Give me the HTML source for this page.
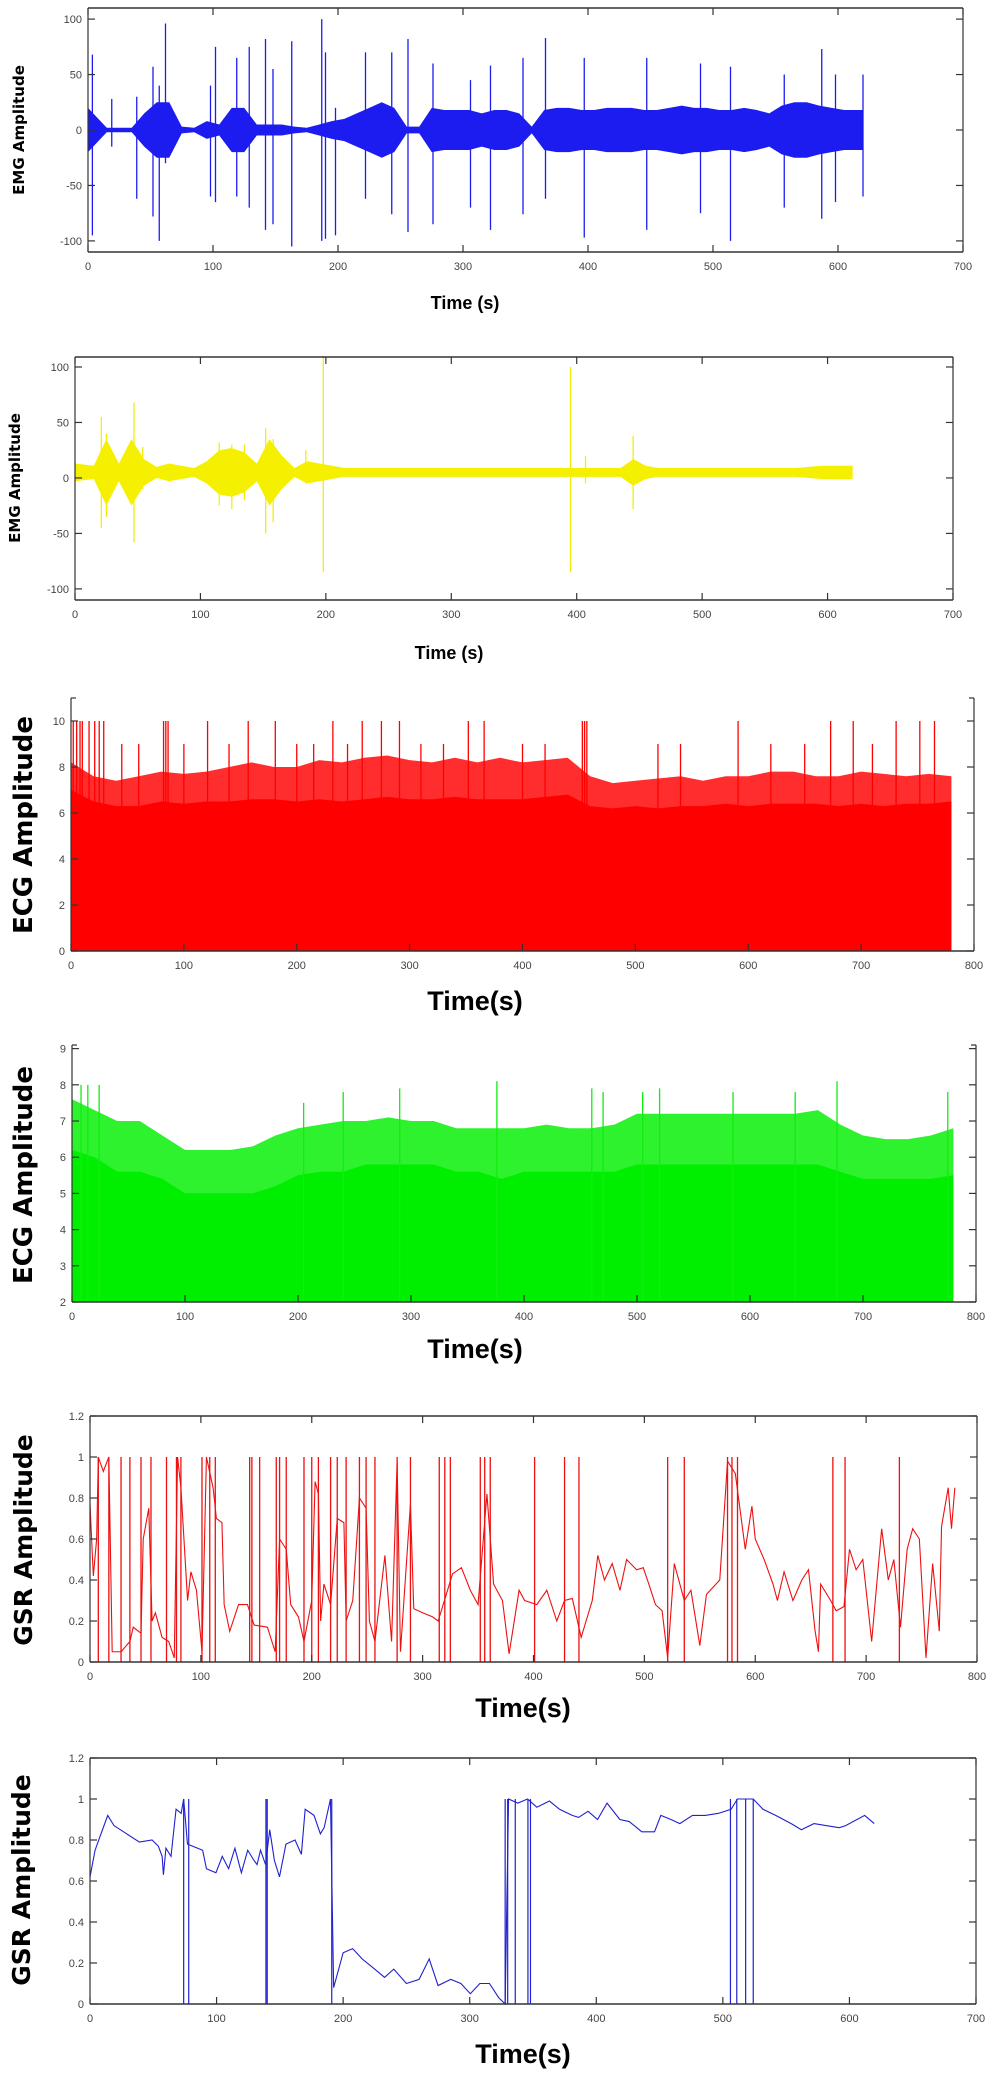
<!DOCTYPE html>
<html><head><meta charset="utf-8">
<style>
html,body{margin:0;padding:0;background:#fff;}
svg{display:block;}
.tk{font-family:"Liberation Sans Narrow","Liberation Sans",sans-serif;font-size:11px;fill:#444;}
</style></head>
<body>
<svg id="fig" width="993" height="2075" viewBox="0 0 993 2075" xmlns="http://www.w3.org/2000/svg"></svg>
<script>
// ---------- DATA ----------
const emgBlueBins = [20,2,2,2,15,25,25,3,2,8,5,20,20,5,5,5,3,2,5,8,10,15,20,25,20,3,3,20,18,18,18,15,18,18,15,3,18,20,20,18,18,20,20,20,18,18,20,22,20,20,18,18,20,18,15,22,25,25,22,20,18,18];
const emgBlueSpikeT  = [3.5,19,39,52,57,62,98,102,119,129,142,148,163,187,190,198,222,243,256,276,306,322,348,366,397,447,490,514,557,587,598,620];
const emgBlueSpikeHi = [68,28,30,57,40,96,40,75,65,75,82,55,80,100,70,20,70,70,82,60,45,58,65,83,65,65,60,57,50,73,50,50];
const emgBlueSpikeLo = [-95,-15,-62,-78,-100,-30,-60,-65,-60,-70,-90,-85,-105,-100,-98,-95,-62,-76,-92,-85,-70,-90,-76,-62,-97,-90,-75,-100,-70,-80,-65,-60];
const emgYellowCenter = 5;
const emgYellowBins = [8,6,30,8,30,12,5,8,6,4,10,20,22,18,8,30,15,4,10,8,6,4,4,4,4,4,4,4,4,4,4,4,4,4,4,4,4,4,4,4,4,4,4,4,12,6,4,4,4,4,4,4,4,4,4,4,4,4,5,6,6,6];
const emgYellowSpikeT  = [21,25,47,54,115,125,135,152,158,184,198,395,407,445];
const emgYellowSpikeHi = [55,40,68,28,32,30,30,45,35,25,110,100,20,38];
const emgYellowSpikeLo = [-45,-35,-58,-10,-25,-28,-20,-50,-40,-5,-85,-85,-5,-28];
const ecgRedT = [0,20,40,60,80,100,120,140,160,180,200,220,240,260,280,300,320,340,360,380,400,420,440,460,480,500,520,540,560,580,600,620,640,660,680,700,720,740,760,780];
const ecgRedSolid  = [7,6.5,6.3,6.3,6.5,6.4,6.5,6.5,6.6,6.6,6.5,6.6,6.5,6.6,6.7,6.6,6.6,6.7,6.6,6.6,6.6,6.7,6.8,6.3,6.2,6.3,6.2,6.3,6.3,6.4,6.3,6.4,6.4,6.4,6.3,6.4,6.3,6.4,6.4,6.5];
const ecgRedFringe = [8.2,7.6,7.4,7.6,7.8,7.7,7.8,8.0,8.2,8.0,8.0,8.3,8.2,8.4,8.5,8.3,8.2,8.4,8.2,8.4,8.2,8.3,8.4,7.6,7.3,7.4,7.5,7.6,7.4,7.6,7.6,7.8,7.8,7.6,7.6,7.8,7.7,7.6,7.7,7.6];
const ecgRedSpikeT = [2,5,8,10,16,21,25,29,45,60,82,84,86,100,121,140,157,181,200,215,232,245,258,275,291,310,330,352,366,400,420,453,455,457,520,540,591,620,650,673,693,710,731,752,765];
const ecgRedSpikeV = [10,10,10,10,10,10,10,10,9,9,10,10,10,9,10,9,10,10,9,9,10,9,10,10,10,9,9,10,10,9,9,10,10,10,9,9,10,9,9,10,10,9,10,10,10];
const ecgGreenT = ecgRedT;
const ecgGreenSolid  = [6.2,6.0,5.6,5.6,5.4,5.0,5.0,5.0,5.0,5.2,5.5,5.6,5.6,5.8,5.8,5.8,5.8,5.6,5.6,5.4,5.6,5.6,5.6,5.6,5.6,5.8,5.8,5.8,5.8,5.8,5.8,5.8,5.8,5.8,5.6,5.4,5.4,5.4,5.4,5.5];
const ecgGreenFringe = [7.6,7.3,7.0,7.0,6.6,6.2,6.2,6.2,6.3,6.6,6.8,6.9,7.0,7.0,7.1,7.0,7.0,6.8,6.8,6.8,6.8,6.9,6.8,6.8,6.9,7.2,7.2,7.2,7.2,7.2,7.2,7.2,7.2,7.3,6.9,6.6,6.5,6.5,6.6,6.8];
const ecgGreenSpikeT = [8,14,24,205,240,290,376,460,470,505,520,585,640,677,775];
const ecgGreenSpikeV = [8.0,8.0,8.0,7.5,7.8,7.9,8.1,7.9,7.8,7.8,7.9,7.8,7.8,8.1,7.8];
const gsrRedT = [0,3,6,7.5,12,17,20,28,36,39,46,48,53,56,59,65,71,76,79,82,88,91,96,101,105,111,114,119,121,126,134,142,148,160,167,171,177,181,188,193,200,203,206,208,211,217,223,229,231,237,243,249,252,257,266,272,277,280,289,292,300,309,314,327,335,343,350,358,364,372,378,387,392,403,412,421,428,435,443,453,458,464,471,478,484,493,499,504,510,516,521,527,536,542,550,556,568,575,582,591,597,600,608,616,620,626,634,642,648,654,657,659,668,673,680,685,691,697,705,714,720,725,731,737,742,748,754,760,766,768,774,777,780];
const gsrRedV = [0.77,0.42,0.6,1.0,0.93,1.0,0.05,0.05,0.1,0.17,0.14,0.6,0.75,0.2,0.24,0.12,0.1,0.02,1.0,0.85,0.3,0.44,0.35,0.05,1.0,0.85,0.7,0.68,0.28,0.15,0.28,0.28,0.18,0.17,0.05,0.6,0.55,0.28,0.22,0.1,0.3,0.88,0.82,0.2,0.38,0.28,0.7,0.68,0.2,0.3,0.8,0.75,0.2,0.1,0.52,0.1,0.98,0.05,0.77,0.26,0.24,0.22,0.2,0.43,0.46,0.35,0.28,0.82,0.38,0.3,0.04,0.35,0.3,0.28,0.35,0.2,0.3,0.31,0.12,0.3,0.52,0.4,0.48,0.35,0.5,0.45,0.46,0.38,0.28,0.25,0.02,0.48,0.3,0.35,0.08,0.33,0.4,0.98,0.92,0.55,0.76,0.6,0.5,0.38,0.3,0.44,0.3,0.4,0.45,0.15,0.05,0.38,0.3,0.25,0.27,0.55,0.45,0.5,0.1,0.65,0.4,0.5,0.17,0.55,0.65,0.6,0.02,0.48,0.15,0.66,0.85,0.65,0.85];
const gsrRedJumps = [7.5,17,28,36,46,55,69,78,82,101,108,113,144,146,153,168,171,177,193,200,206,217,223,231,243,249,257,277,289,315,320,325,352,356,361,401,428,441,521,536,575,579,584,670,681,730];
const gsrBlueT = [0,4,7.5,14,19,29,39,49,54,57,58,60,64,68,72,74,77,89,92,99.5,104.5,109.5,114.5,119.6,124.6,129.6,132,134.7,138.7,142,145.7,149.7,154.8,162,167,170,177,182,185,190,192.5,200,207.5,215,225,232.7,240,250,260,268,275,285,293,300.5,308,315.6,323,328,330.7,338,345.7,353,363,371,381,386,393.5,401,408.5,418.6,426,436,446,451,459,466,476,486,496.5,506.5,511.5,524,531.7,541.7,554,562,572,582,592,597,612,619.6];
const gsrBlueV = [0.62,0.75,0.81,0.92,0.87,0.83,0.79,0.8,0.77,0.72,0.63,0.76,0.72,0.95,0.93,1.0,0.78,0.75,0.66,0.64,0.72,0.66,0.76,0.64,0.75,0.7,0.68,0.75,0.68,0.85,0.7,0.62,0.78,0.8,0.73,0.95,0.92,0.83,0.86,1.0,0.08,0.25,0.27,0.22,0.17,0.13,0.17,0.1,0.12,0.22,0.09,0.12,0.1,0.05,0.1,0.1,0.03,0.0,1.0,0.98,1.0,0.96,0.99,0.95,0.92,0.91,0.94,0.9,0.98,0.9,0.89,0.84,0.84,0.92,0.9,0.88,0.92,0.92,0.93,0.95,1.0,1.0,0.95,0.92,0.88,0.85,0.88,0.87,0.86,0.87,0.92,0.88];
const gsrBlueJumps = [74,78,139,140,191,328,330,336,346,348,506,511,518,524];

// ---------- DRAWING ----------
const NS = "http://www.w3.org/2000/svg";
const fig = document.getElementById("fig");
function mk(tag, parent){ const e=document.createElementNS(NS,tag); parent.appendChild(e); return e; }
function scale(d0,d1,r0,r1){ return v => r0 + (v-d0)*(r1-r0)/(d1-d0); }

function axes(p){
  const g = mk("g", fig);
  
  
  p.g = g;
  p.sx = scale(p.xmin,p.xmax,p.x0,p.x1);
  p.sy = scale(p.ymin,p.ymax,p.y0,p.y1);
  return g;
}
function frame(p){
  const g = mk("g", p.g);
  
  
  const st = "#333";
  const ln = (x1,y1,x2,y2,w)=>{const l=mk("line",g);l.setAttribute("x1",x1);l.setAttribute("y1",y1);l.setAttribute("x2",x2);l.setAttribute("y2",y2);l.setAttribute("stroke",st);l.setAttribute("stroke-width",w||1.2);};
  ln(p.x0,p.y0,p.x1,p.y0,1.6);
  ln(p.x0,p.y0,p.x0,p.y1);
  ln(p.x1,p.y0,p.x1,p.y1);
  if(p.top) ln(p.x0,p.y1,p.x1,p.y1,1.6);
  else { ln(p.x0,p.y1,p.x0+5,p.y1); ln(p.x1-5,p.y1,p.x1,p.y1); }
  for(const t of p.xticks){
    const x=p.sx(t);
    ln(x,p.y0,x,p.y0-7);
    if(p.top) ln(x,p.y1,x,p.y1+7);
    const tx=mk("text",g); tx.setAttribute("class","tk"); tx.setAttribute("x",x); tx.setAttribute("y",p.y0+18); tx.setAttribute("text-anchor","middle");
    
    
    tx.textContent=t;
  }
  for(const t of p.yticks){
    const y=p.sy(t);
    ln(p.x0,y,p.x0+7,y); ln(p.x1,y,p.x1-7,y);
    const tx=mk("text",g); tx.setAttribute("class","tk"); tx.setAttribute("x",p.x0-6); tx.setAttribute("y",y+4); tx.setAttribute("text-anchor","end");
    
    
    tx.textContent=t;
  }
  const xt=mk("text",p.g);
  xt.setAttribute("x",p.xtx); xt.setAttribute("y",p.xty); xt.setAttribute("text-anchor","middle");
  xt.setAttribute("font-family",'"Liberation Sans Narrow","Liberation Sans",sans-serif'); xt.setAttribute("font-weight","bold"); xt.setAttribute("font-size",p.xfs);
  
  
  xt.textContent=p.xlabel;
  const yt=mk("text",p.g);
  yt.setAttribute("transform",`translate(${p.ytx},${p.yty}) rotate(-90)`); yt.setAttribute("text-anchor","middle");
  yt.setAttribute("font-family",'"DejaVu Sans","Liberation Sans",sans-serif'); yt.setAttribute("font-weight","bold"); yt.setAttribute("font-size",p.yfs);
  
  
  yt.textContent=p.ylabel;
}
function band(p, color, bins, center){
  let up="", dn="";
  const n=bins.length;
  bins.forEach((a,i)=>{
    const xs = i===0 ? p.sx(0) : (i===n-1 ? p.sx(n*10) : p.sx(i*10+5));
    up += `${xs},${p.sy(center+a)} `;
    dn = `${xs},${p.sy(center-a)} ` + dn; });
  const pg=mk("polygon",p.g); pg.setAttribute("points",up+dn); pg.setAttribute("fill",color);
  
  
}
function spikes(p,color,T,hi,lo,w){
  T.forEach((t,i)=>{ const l=mk("line",p.g);
    l.setAttribute("x1",p.sx(t)); l.setAttribute("x2",p.sx(t));
    l.setAttribute("y1",p.sy(hi[i])); l.setAttribute("y2",p.sy(Array.isArray(lo)?lo[i]:lo));
    l.setAttribute("stroke",color); l.setAttribute("stroke-width",w||1.2);
    
    
  });
}
function area(p,color,T,V,base,op){
  let pts=`${p.sx(T[0])},${p.sy(base)} `;
  T.forEach((t,i)=>{ pts+=`${p.sx(t)},${p.sy(V[i])} `; });
  pts+=`${p.sx(T[T.length-1])},${p.sy(base)}`;
  const pg=mk("polygon",p.g); pg.setAttribute("points",pts); pg.setAttribute("fill",color); if(op) pg.setAttribute("fill-opacity",op);
  
  
}
function line(p,color,T,V){
  const pl=mk("polyline",p.g);
  pl.setAttribute("points",T.map((t,i)=>`${p.sx(t)},${p.sy(V[i])}`).join(" "));
  pl.setAttribute("fill","none"); pl.setAttribute("stroke",color); pl.setAttribute("stroke-width",1.1);
  
  
}
const xt7=[0,100,200,300,400,500,600,700], xt8=[0,100,200,300,400,500,600,700,800];

const p1={name:'emg-blue-panel',x0:88,x1:963,y0:252,y1:8,xmin:0,xmax:700,ymin:-110,ymax:110,top:true,
  xticks:xt7,yticks:[-100,-50,0,50,100],xlabel:'Time (s)',xtx:465,xty:309,xfs:18,ylabel:'EMG Amplitude',ytx:24,yty:130,yfs:15};
axes(p1); band(p1,'#1c1cf0',emgBlueBins,0); spikes(p1,'#1c1cf0',emgBlueSpikeT,emgBlueSpikeHi,emgBlueSpikeLo,1.3); frame(p1);
const p2={name:'emg-yellow-panel',x0:75,x1:953,y0:600,y1:357,xmin:0,xmax:700,ymin:-110,ymax:109,top:true,
  xticks:xt7,yticks:[-100,-50,0,50,100],xlabel:'Time (s)',xtx:449,xty:659,xfs:18,ylabel:'EMG Amplitude',ytx:20,yty:478,yfs:15};
axes(p2); band(p2,'#f5f000',emgYellowBins,emgYellowCenter); spikes(p2,'#f5f000',emgYellowSpikeT,emgYellowSpikeHi,emgYellowSpikeLo,1.3); frame(p2);
const p3={name:'ecg-red-panel',x0:71,x1:974,y0:951,y1:698,xmin:0,xmax:800,ymin:0,ymax:11,top:false,
  xticks:xt8,yticks:[0,2,4,6,8,10],xlabel:'Time(s)',xtx:475,xty:1010,xfs:27,ylabel:'ECG Amplitude',ytx:32,yty:825,yfs:26};
axes(p3); area(p3,'#ff1010',ecgRedT,ecgRedFringe,0,0.88); area(p3,'#ff0000',ecgRedT,ecgRedSolid,0); spikes(p3,'#ff0000',ecgRedSpikeT,ecgRedSpikeV,0,1.3); frame(p3);
const p4={name:'ecg-green-panel',x0:72,x1:976,y0:1302,y1:1045,xmin:0,xmax:800,ymin:2,ymax:9.1,top:false,
  xticks:xt8,yticks:[2,3,4,5,6,7,8,9],xlabel:'Time(s)',xtx:475,xty:1358,xfs:27,ylabel:'ECG Amplitude',ytx:32,yty:1175,yfs:26};
axes(p4); area(p4,'#10f010',ecgGreenT,ecgGreenFringe,2,0.88); area(p4,'#00ee00',ecgGreenT,ecgGreenSolid,2); spikes(p4,'#10ee10',ecgGreenSpikeT,ecgGreenSpikeV,2,1.3); frame(p4);
const p5={name:'gsr-red-panel',x0:90,x1:977,y0:1662,y1:1416,xmin:0,xmax:800,ymin:0,ymax:1.2,top:true,
  xticks:xt8,yticks:[0,0.2,0.4,0.6,0.8,1,1.2],xlabel:'Time(s)',xtx:523,xty:1717,xfs:27,ylabel:'GSR Amplitude',ytx:32,yty:1540,yfs:25};
axes(p5); line(p5,'#ee1010',gsrRedT,gsrRedV); spikes(p5,'#ee1010',gsrRedJumps,gsrRedJumps.map(()=>1),0,1.3); frame(p5);
const p6={name:'gsr-blue-panel',x0:90,x1:976,y0:2004,y1:1758,xmin:0,xmax:700,ymin:0,ymax:1.2,top:true,
  xticks:xt7,yticks:[0,0.2,0.4,0.6,0.8,1,1.2],xlabel:'Time(s)',xtx:523,xty:2063,xfs:27,ylabel:'GSR Amplitude',ytx:30,yty:1880,yfs:25};
axes(p6); line(p6,'#2020d0',gsrBlueT,gsrBlueV); spikes(p6,'#2020d0',gsrBlueJumps,gsrBlueJumps.map(()=>1),0,1.2); frame(p6);
</script>
</body></html>
